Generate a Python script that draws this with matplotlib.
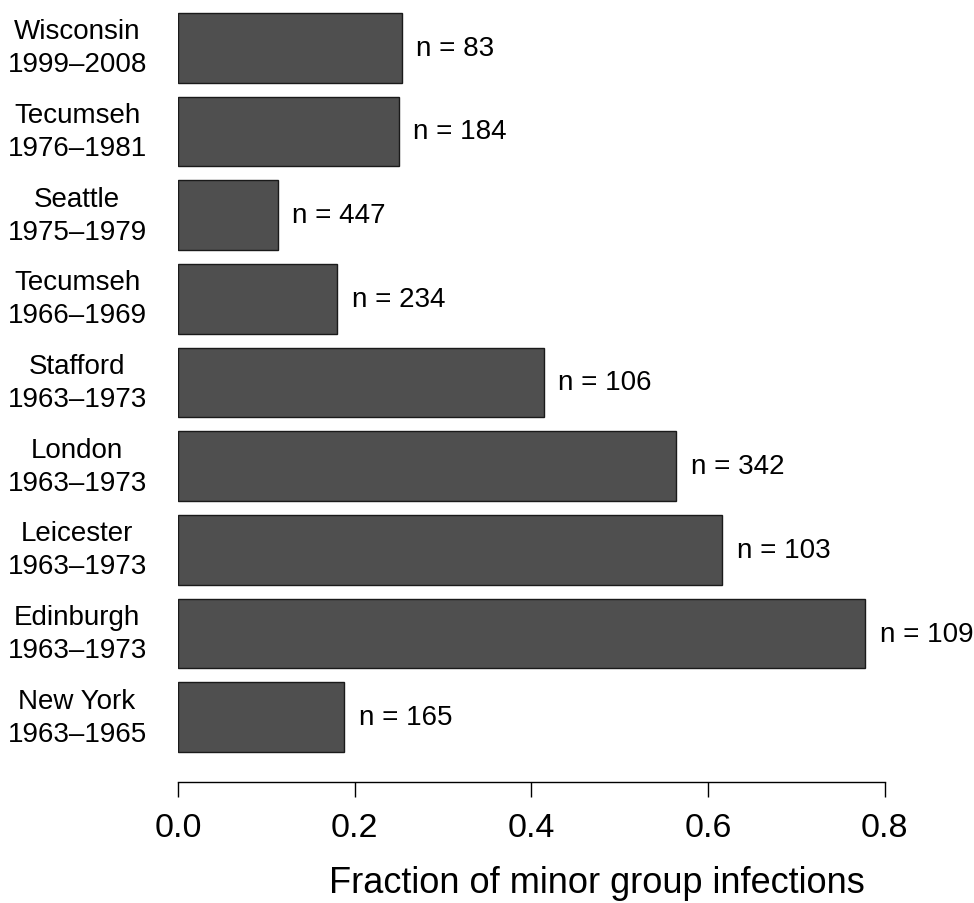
import matplotlib
matplotlib.use("Agg")
import matplotlib.pyplot as plt

plt.rcParams['font.family'] = ['Liberation Sans', 'DejaVu Sans']

# studies listed bottom to top
studies = ['New York\n1963–1965', 'Edinburgh\n1963–1973', 'Leicester\n1963–1973',
           'London\n1963–1973', 'Stafford\n1963–1973', 'Tecumseh\n1966–1969',
           'Seattle\n1975–1979', 'Tecumseh\n1976–1981', 'Wisconsin\n1999–2008']
fraction = [0.188, 0.778, 0.616, 0.564, 0.414, 0.180, 0.113, 0.250, 0.253]
n_cases = [165, 109, 103, 342, 106, 234, 447, 184, 83]
ticks = [0.0, 0.2, 0.4, 0.6, 0.8]

fig = plt.figure(figsize=(9.74, 9.04), dpi=100)
ax = fig.add_axes([0.1828, 0.1342, 0.7256, 0.8582])

ypos = list(range(len(studies)))
ax.barh(ypos, fraction, height=1 / 1.2, color='#4f4f4f', edgecolor='#1a1a1a', linewidth=1.0)

for y, v, n in zip(ypos, fraction, n_cases):
    ax.annotate('n = %d' % n, (v, y), xytext=(10.5, 0), textcoords='offset points',
                ha='left', va='center', fontsize=20, annotation_clip=False)

ax.set_xlim(0, 0.8)
ax.set_ylim(-0.77, 8.5)
ax.set_xticks(ticks)
ax.set_xticklabels(['%.1f' % t for t in ticks], fontsize=24.5)
ax.tick_params(axis='x', length=10.8, width=1.0, pad=11)
ax.set_yticks(ypos)
ax.set_yticklabels([])
ax.tick_params(axis='y', length=0)
for s in ['top', 'right', 'left']:
    ax.spines[s].set_visible(False)
ax.spines['bottom'].set_linewidth(1.0)

for y, lab in zip(ypos, studies):
    ax.text(-0.1143, y, lab, ha='center', va='center', fontsize=20,
            linespacing=1.35, transform=ax.transData, clip_on=False)

fig.text(597 / 974, 1 - 884 / 904, 'Fraction of minor group infections',
         ha='center', va='center', fontsize=26)

fig.savefig('out.png', dpi=100)
